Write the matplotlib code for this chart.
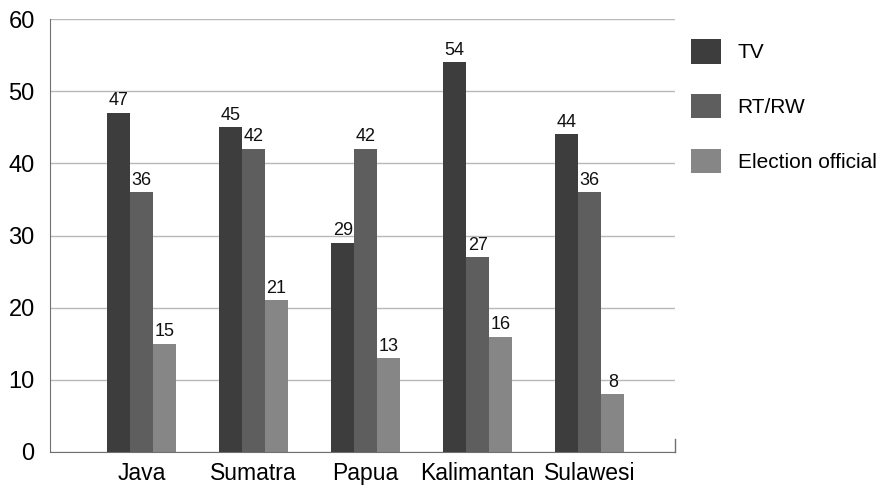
import matplotlib
matplotlib.use('Agg')
import matplotlib.pyplot as plt
import numpy as np
from matplotlib.patches import Patch

plt.rcParams['font.family'] = ['Liberation Sans', 'DejaVu Sans']

# data
regions = ['Java', 'Sumatra', 'Papua', 'Kalimantan', 'Sulawesi']
tv = [47, 45, 29, 54, 44]
rtrw = [36, 42, 42, 27, 36]
election = [15, 21, 13, 16, 8]
series_names = ['TV', 'RT/RW', 'Election official']
colors = ['#3d3d3d', '#5e5e5e', '#868686']

fig = plt.figure(figsize=(8.87, 4.87), dpi=100)
ax = fig.add_axes([50/887, 35/487, 625/887, 433/487])

x = np.arange(len(regions))
w = 0.205
for i, vals in enumerate([tv, rtrw, election]):
    bars = ax.bar(x + (i - 1) * w, vals, w, color=colors[i], zorder=3)
    for b, v in zip(bars, vals):
        ax.text(b.get_x() + b.get_width() / 2, v + 0.5, str(v),
                ha='center', va='bottom', fontsize=13, color='#111111')

ax.set_xlim(-0.817, 4.76)
ax.set_ylim(0, 60)
ax.set_yticks(range(0, 61, 10))
ax.yaxis.grid(True, color='#b8b8b8', linewidth=1, zorder=0)
ax.set_axisbelow(True)
ax.set_xticks(x)
ax.set_xticklabels(regions, fontsize=16.5)
ax.tick_params(axis='y', labelsize=17, length=0, pad=11)
ax.tick_params(axis='x', length=0, pad=7)
for s in ['top', 'right']:
    ax.spines[s].set_visible(False)
for s in ['left', 'bottom']:
    ax.spines[s].set_color('#707070')
ax.axvline(4.76, ymin=0, ymax=0.03, color='#707070', linewidth=1, clip_on=False)

handles = [Patch(facecolor=c, label=n) for c, n in zip(colors, series_names)]
fig.legend(handles=handles, loc='upper left', bbox_to_anchor=(691/887, 1 - 39/487),
           frameon=False, fontsize=15, handlelength=1.44, handleheight=1.44,
           labelspacing=1.45, handletextpad=0.8, borderaxespad=0, borderpad=0)

fig.savefig('out.png', dpi=100)
